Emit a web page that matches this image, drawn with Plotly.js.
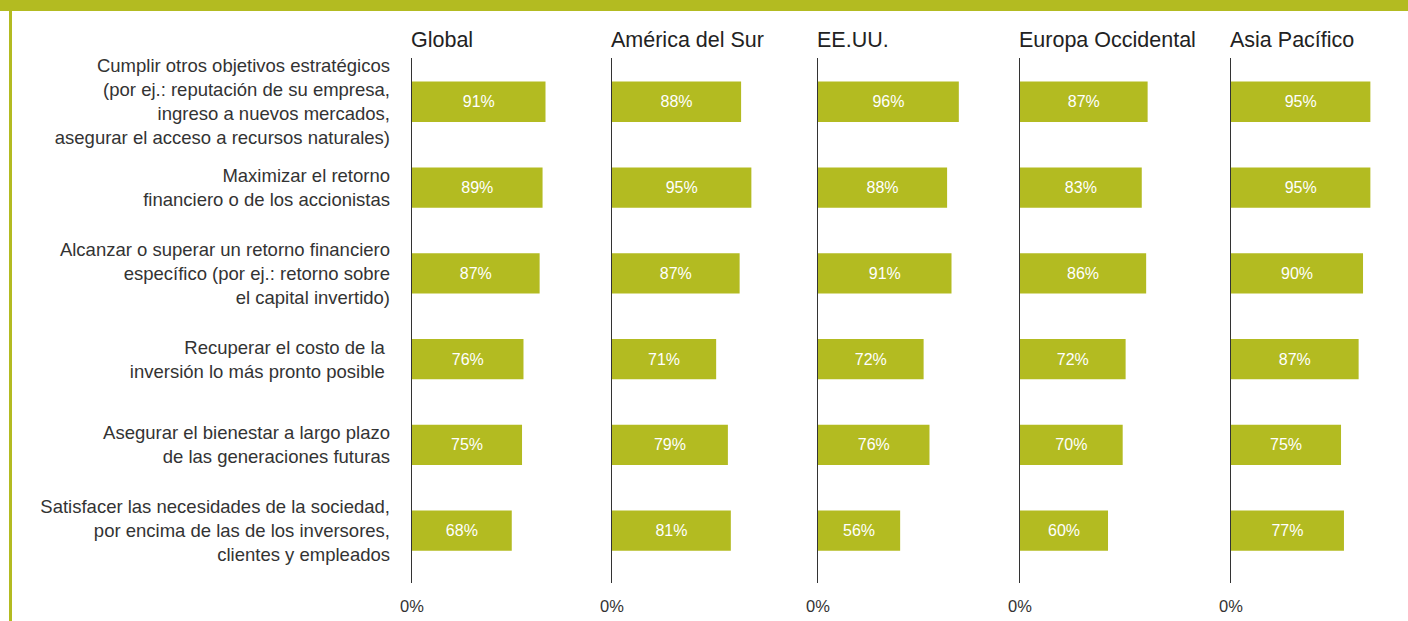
<!DOCTYPE html>
<html>
<head>
<meta charset="utf-8">
<script src="https://cdn.plot.ly/plotly-3.0.1.min.js"></script>
<style>html,body{margin:0;padding:0;background:#fff;}#chart{width:1408px;height:621px;}</style>
</head>
<body>
<div id="chart"></div>
<script>
const categories = [
  "Cumplir otros objetivos estratégicos<br>(por ej.: reputación de su empresa,<br>ingreso a nuevos mercados,<br>asegurar el acceso a recursos naturales)",
  "Maximizar el retorno<br>financiero o de los accionistas",
  "Alcanzar o superar un retorno financiero<br>específico (por ej.: retorno sobre<br>el capital invertido)",
  "Recuperar el costo de la\u00a0<br>inversión lo más pronto posible\u00a0",
  "Asegurar el bienestar a largo plazo<br>de las generaciones futuras",
  "Satisfacer las necesidades de la sociedad,<br>por encima de las de los inversores,<br>clientes y empleados"
];
const regions = ["Global", "América del Sur", "EE.UU.", "Europa Occidental", "Asia Pacífico"];
const global = [91, 89, 87, 76, 75, 68];
const americaSur = [88, 95, 87, 71, 79, 81];
const eeuu = [96, 88, 91, 72, 76, 56];
const europa = [87, 83, 86, 72, 70, 60];
const asia = [95, 95, 90, 87, 75, 77];
const seriesList = [global, americaSur, eeuu, europa, asia];
const zeroLabel = "0%";

const W = 1408, H = 621;
const GREEN = "#b3bb21";
const FONT = "Liberation Sans, Arial, Helvetica, sans-serif";
const panelStarts = [412, 612, 818, 1020, 1231];
const panelWidth = 170;
const pxPerPct = 1.467;
const plotTop = 58, plotBottom = 583;

const traces = [];
const layout = {
  width: W, height: H,
  margin: {l: 0, r: 0, t: plotTop, b: H - plotBottom, pad: 0},
  paper_bgcolor: "#ffffff", plot_bgcolor: "rgba(0,0,0,0)",
  showlegend: false, hovermode: false,
  font: {family: FONT, color: "#333333"},
  annotations: [], shapes: []
};

seriesList.forEach((vals, i) => {
  const n = i === 0 ? "" : String(i + 1);
  traces.push({
    type: "bar", orientation: "h",
    x: vals, y: categories,
    xaxis: "x" + n, yaxis: "y" + n,
    width: 0.47,
    marker: {color: GREEN, line: {width: 0}},
    text: vals.map(v => v + "%"),
    textposition: "inside", insidetextanchor: "middle",
    textfont: {color: "#ffffff", size: 16, family: FONT},
    constraintext: "none",
    cliponaxis: false
  });
  const x0 = panelStarts[i] / W, x1 = (panelStarts[i] + panelWidth) / W;
  layout["xaxis" + n] = {
    domain: [x0, x1], range: [0, panelWidth / pxPerPct], anchor: "y" + n,
    showgrid: false, zeroline: false, showline: false,
    tickmode: "array", tickvals: [0], ticktext: [zeroLabel],
    ticks: "outside", ticklen: 8, tickcolor: "rgba(0,0,0,0)",
    tickfont: {size: 16.5, color: "#333333", family: FONT},
    automargin: false, fixedrange: true
  };
  layout["yaxis" + n] = {
    anchor: "x" + n,
    type: "category", categoryorder: "array", categoryarray: categories,
    range: [5.61, -0.51],
    showgrid: false, zeroline: false,
    showline: true, linecolor: "#333333", linewidth: 1.3,
    showticklabels: i === 0,
    ticks: i === 0 ? "outside" : "", ticklen: 17, tickcolor: "rgba(0,0,0,0)",
    tickfont: {size: 18.5, color: "#333333", family: FONT},
    automargin: false, fixedrange: true
  };
  layout.annotations.push({
    xref: "paper", yref: "paper", x: x0, y: 1,
    xanchor: "left", yanchor: "middle", xshift: -3, yshift: 18,
    text: regions[i], showarrow: false,
    font: {size: 21.5, color: "#222222", family: FONT}
  });
});

const py = p => 1 - (p - plotTop) / (plotBottom - plotTop);
layout.shapes.push({type: "rect", xref: "paper", yref: "paper", x0: 0, x1: 1, y0: py(11), y1: py(-2), fillcolor: GREEN, line: {width: 0}, layer: "above"});
layout.shapes.push({type: "rect", xref: "paper", yref: "paper", x0: 9 / W, x1: 12 / W, y0: py(H + 2), y1: py(10), fillcolor: GREEN, line: {width: 0}, layer: "above"});

Plotly.newPlot("chart", traces, layout, {displayModeBar: false, staticPlot: true});
</script>
</body>
</html>
